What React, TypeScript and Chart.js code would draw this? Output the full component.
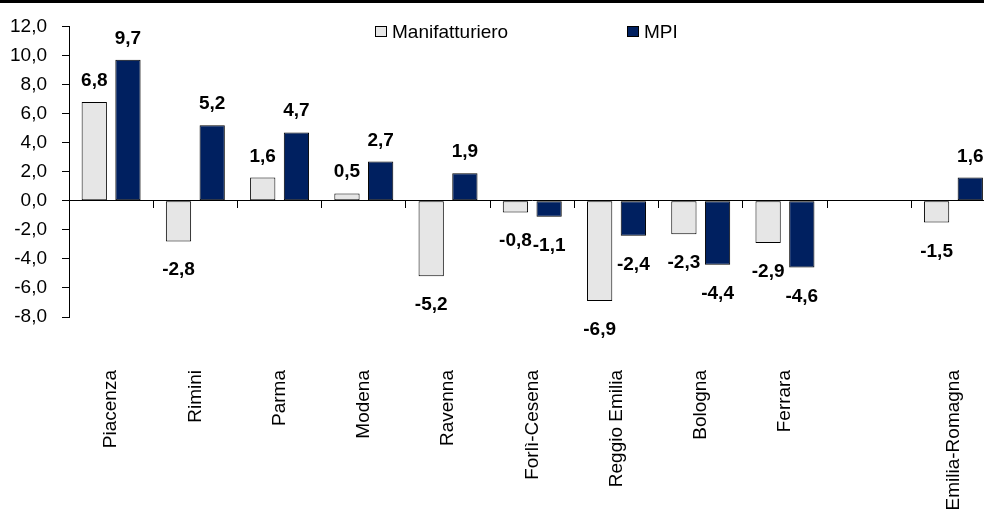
import React, { useEffect, useRef } from 'react';
import { Chart, registerables } from 'chart.js';

Chart.register(...registerables);

const categories = ['Piacenza', 'Rimini', 'Parma', 'Modena', 'Ravenna', 'Forlì-Cesena', 'Reggio Emilia', 'Bologna', 'Ferrara', '', 'Emilia-Romagna'];
const manifatturiero: (number | null)[] = [6.8, -2.8, 1.6, 0.5, -5.2, -0.8, -6.9, -2.3, -2.9, null, -1.5];
const mpi: (number | null)[] = [9.7, 5.2, 4.7, 2.7, 1.9, -1.1, -2.4, -4.4, -4.6, null, 1.6];
const seriesNames = ['Manifatturiero', 'MPI'];
const seriesColors = ['#e6e6e6', '#002060'];
const yMin = -8;
const yMax = 12;
const yStep = 2;

const FONT = "'Liberation Sans', Arial, sans-serif";
const fmt = (v: number) => v.toFixed(1).replace('.', ',');

const framePlugin = {
  id: 'frame',
  beforeDraw(chart: any) {
    const ctx = chart.ctx;
    ctx.save();
    ctx.fillStyle = '#ffffff';
    ctx.fillRect(0, 0, chart.width, chart.height);
    ctx.fillStyle = '#000000';
    ctx.fillRect(0, 0, chart.width, 3);
    ctx.restore();
  },
};

const valueLabelPlugin = {
  id: 'valueLabels',
  afterDatasetsDraw(chart: any) {
    const ctx = chart.ctx;
    ctx.save();
    ctx.font = `bold 19px ${FONT}`;
    ctx.fillStyle = '#000';
    ctx.textAlign = 'center';
    ctx.textBaseline = 'alphabetic';
    chart.data.datasets.forEach((ds: any, di: number) => {
      const meta = chart.getDatasetMeta(di);
      meta.data.forEach((el: any, i: number) => {
        const v = ds.data[i];
        if (v === null || v === undefined) return;
        const y = v >= 0 ? el.y - 16 : el.y + 34;
        ctx.fillText(fmt(v), el.x, y);
      });
    });
    ctx.restore();
  },
};

const legendPlugin = {
  id: 'customLegend',
  afterDraw(chart: any) {
    const ctx = chart.ctx;
    const xs = [375, 627];
    ctx.save();
    ctx.font = `19px ${FONT}`;
    ctx.textAlign = 'left';
    ctx.textBaseline = 'alphabetic';
    chart.data.datasets.forEach((ds: any, i: number) => {
      const x = xs[i];
      ctx.fillStyle = ds.backgroundColor;
      ctx.fillRect(x + 0.5, 26.5, 11, 10);
      ctx.strokeStyle = '#000';
      ctx.lineWidth = 1;
      ctx.strokeRect(x + 0.5, 26.5, 11, 10);
      ctx.fillStyle = '#000';
      ctx.fillText(ds.label, x + 17, 38);
    });
    ctx.restore();
  },
};

export default function App() {
  const ref = useRef<HTMLCanvasElement | null>(null);

  useEffect(() => {
    if (!ref.current) return;
    const chart = new Chart(ref.current, {
      type: 'bar',
      data: {
        labels: categories,
        datasets: [
          {
            label: seriesNames[0],
            data: manifatturiero,
            backgroundColor: seriesColors[0],
            borderColor: '#000',
            borderWidth: 1,
            borderSkipped: false,
            categoryPercentage: 0.8,
            barPercentage: 0.75,
            xAxisID: 'x',
            yAxisID: 'y',
          },
          {
            label: seriesNames[1],
            data: mpi,
            backgroundColor: seriesColors[1],
            borderColor: '#000',
            borderWidth: 1,
            borderSkipped: false,
            categoryPercentage: 0.8,
            barPercentage: 0.75,
            xAxisID: 'x',
            yAxisID: 'y',
          },
        ],
      } as any,
      options: {
        animation: false,
        responsive: false,
        layout: { padding: { top: 25, right: 17, bottom: 0, left: 0 } },
        plugins: {
          legend: { display: false },
          tooltip: { enabled: false },
        },
        scales: {
          x: {
            type: 'category',
            position: 'bottom',
            offset: true,
            grid: { display: false, drawTicks: false },
            border: { display: false },
            ticks: {
              autoSkip: false,
              minRotation: 90,
              maxRotation: 90,
              padding: 53,
              color: '#000',
              font: { family: FONT, size: 19 },
            },
            afterFit: (scale: any) => {
              scale.height = 194;
            },
          },
          x2: {
            type: 'category',
            axis: 'x',
            position: { y: 0 },
            offset: true,
            grid: {
              display: true,
              offset: true,
              drawOnChartArea: false,
              drawTicks: true,
              tickLength: 7,
              color: '#000',
            },
            border: { display: true, color: '#000', width: 1 },
            ticks: { display: false },
          },
          y: {
            type: 'linear',
            min: yMin,
            max: yMax,
            ticks: {
              stepSize: yStep,
              padding: 15,
              color: '#000',
              font: { family: FONT, size: 19 },
              callback: (v: any) => fmt(Number(v)),
            },
            grid: {
              display: true,
              drawOnChartArea: false,
              drawTicks: true,
              tickLength: 7,
              color: '#000',
            },
            border: { display: true, color: '#000', width: 1 },
            afterFit: (scale: any) => {
              scale.width = 69;
            },
          },
        },
      } as any,
      plugins: [framePlugin, valueLabelPlugin, legendPlugin],
    });
    return () => chart.destroy();
  }, []);

  return (
    <div
      style={{
        position: 'absolute',
        left: 0,
        top: 0,
        width: 984,
        height: 511,
        overflow: 'hidden',
        background: '#fff',
      }}
    >
      <canvas ref={ref} width={1030} height={511} />
    </div>
  );
}
